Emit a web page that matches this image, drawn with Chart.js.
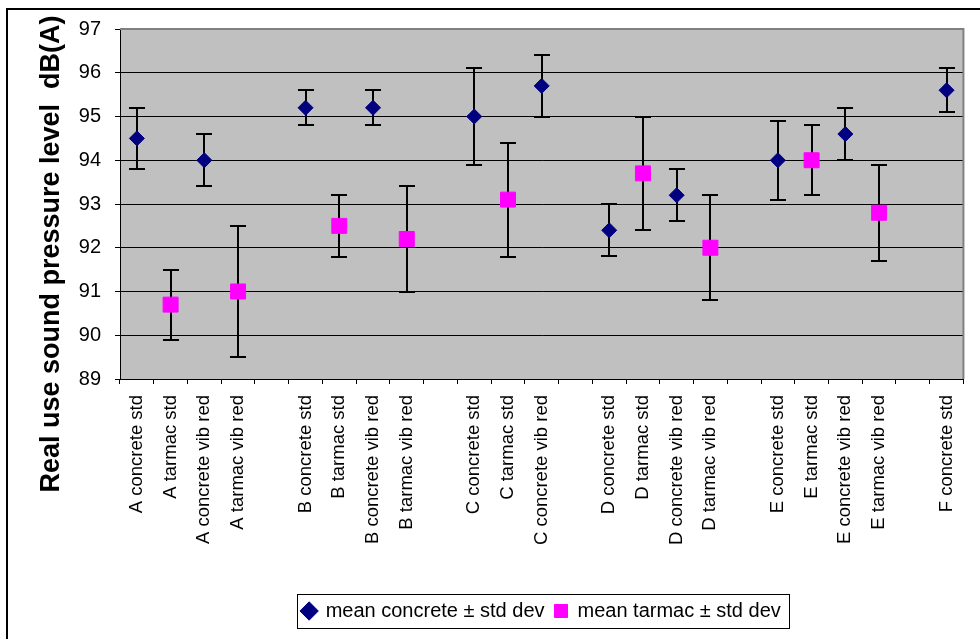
<!DOCTYPE html>
<html><head><meta charset="utf-8">
<script src="https://cdn.jsdelivr.net/npm/chart.js@4.4.0/dist/chart.umd.min.js"></script>
<style>html,body{margin:0;padding:0;background:#fff;} #wrap{width:980px;height:639px;}</style>
</head><body><div id="wrap"><canvas id="c" width="980" height="639"></canvas></div>
<script>
const categories = ['A concrete std','A tarmac std','A concrete vib red','A tarmac vib red','',
  'B concrete std','B tarmac std','B concrete vib red','B tarmac vib red','',
  'C concrete std','C tarmac std','C concrete vib red','',
  'D concrete std','D tarmac std','D concrete vib red','D tarmac vib red','',
  'E concrete std','E tarmac std','E concrete vib red','E tarmac vib red','',
  'F concrete std'];
const concreteMean = [94.5,null,94.0,null,null, 95.2,null,95.2,null,null, 95.0,null,95.7,null, 92.4,null,93.2,null,null, 94.0,null,94.6,null,null, 95.6];
const concreteStd  = [0.7,null,0.6,null,null, 0.4,null,0.4,null,null, 1.1,null,0.7,null, 0.6,null,0.6,null,null, 0.9,null,0.6,null,null, 0.5];
const tarmacMean = [null,90.7,null,91.0,null, null,92.5,null,92.2,null, null,93.1,null,null, null,93.7,null,92.0,null, null,94.0,null,92.8,null, null];
const tarmacStd  = [null,0.8,null,1.5,null, null,0.7,null,1.2,null, null,1.3,null,null, null,1.3,null,1.2,null, null,0.8,null,1.1,null, null];
const yTicks = [89,90,91,92,93,94,95,96,97];
const yTitle = 'Real use sound pressure level  dB(A)';
const seriesNames = ['mean concrete \u00b1 std dev','mean tarmac \u00b1 std dev'];

const FONT = "'Liberation Sans', Arial, sans-serif";
Chart.defaults.font.family = FONT;
Chart.defaults.color = '#000';

const bgPlugin = {
  id: 'bg',
  beforeDraw(chart) {
    const {ctx, chartArea: a} = chart;
    ctx.save();
    ctx.fillStyle = '#fff';
    ctx.fillRect(0, 0, chart.width, chart.height);
    ctx.strokeStyle = '#000';
    ctx.lineWidth = 2;
    ctx.beginPath();
    ctx.moveTo(7, chart.height); ctx.lineTo(7, 9); ctx.lineTo(chart.width, 9);
    ctx.stroke();
    ctx.fillStyle = '#C0C0C0';
    ctx.fillRect(a.left, a.top, a.right - a.left, a.bottom - a.top);
    ctx.restore();
  },
  beforeDatasetsDraw(chart) {
    const {ctx, chartArea: a, scales: {x, y}} = chart;
    ctx.save();
    ctx.strokeStyle = '#808080';
    ctx.lineWidth = 2;
    ctx.beginPath();
    ctx.moveTo(a.left, a.top); ctx.lineTo(a.right, a.top); ctx.lineTo(a.right, a.bottom);
    ctx.stroke();
    // error bars (mean ± std dev)
    ctx.strokeStyle = '#000';
    ctx.lineWidth = 2;
    [[concreteMean, concreteStd], [tarmacMean, tarmacStd]].forEach(([m, s]) => {
      m.forEach((v, i) => {
        if (v == null) return;
        const px = Math.round(x.getPixelForValue(i));
        const top = Math.round(y.getPixelForValue(v + s[i]));
        const bot = Math.round(y.getPixelForValue(v - s[i]));
        ctx.beginPath();
        ctx.moveTo(px, top); ctx.lineTo(px, bot);
        ctx.moveTo(px - 8, top); ctx.lineTo(px + 8, top);
        ctx.moveTo(px - 8, bot); ctx.lineTo(px + 8, bot);
        ctx.stroke();
      });
    });
    ctx.restore();
  },
  afterDraw(chart) {
    const {ctx} = chart;
    ctx.save();
    ctx.translate(52, 254);
    ctx.rotate(-Math.PI / 2);
    ctx.font = "bold 27px " + FONT;
    ctx.fillStyle = '#000';
    ctx.textAlign = 'center';
    ctx.textBaseline = 'middle';
    ctx.fillText(yTitle, 0, 0);
    ctx.restore();
    const lg = chart.legend;
    if (lg && lg.legendHitBoxes && lg.legendHitBoxes.length) {
      const hb = lg.legendHitBoxes;
      let l = Infinity, r = -Infinity, t = Infinity, b = -Infinity;
      hb.forEach(h => { l = Math.min(l, h.left); r = Math.max(r, h.left + h.width); t = Math.min(t, h.top); b = Math.max(b, h.top + h.height); });
      ctx.save();
      ctx.strokeStyle = '#000';
      ctx.lineWidth = 1;
      ctx.strokeRect(Math.round(l - 6) + 0.5, Math.round(t - 7) + 0.5, Math.round(r - l + 14), Math.round(b - t + 14));
      ctx.restore();
    }
  }
};

new Chart(document.getElementById('c'), {
  type: 'line',
  data: {
    labels: categories,
    datasets: [
      { label: seriesNames[0], data: concreteMean, showLine: false, pointStyle: 'rectRot',
        pointRadius: 7.5, pointHoverRadius: 7.5, pointBackgroundColor: '#000080', pointBorderColor: '#000080', pointBorderWidth: 1,
        backgroundColor: '#000080', borderColor: '#000080' },
      { label: seriesNames[1], data: tarmacMean, showLine: false, pointStyle: 'rect',
        pointRadius: 10.6, pointHoverRadius: 10.6, pointBackgroundColor: '#FF00FF', pointBorderColor: '#FF00FF', pointBorderWidth: 1,
        backgroundColor: '#FF00FF', borderColor: '#FF00FF' }
    ]
  },
  options: {
    responsive: false,
    animation: false,
    events: [],
    layout: { padding: { left: 0, right: 11, top: 29, bottom: 8 } },
    plugins: {
      tooltip: { enabled: false },
      legend: {
        position: 'bottom',
        fullSize: false,
        labels: { usePointStyle: true, boxWidth: 13, boxHeight: 13, padding: 10,
          font: { size: 20, family: FONT }, color: '#000' }
      }
    },
    scales: {
      x: {
        type: 'category',
        offset: true,
        afterFit(s) { s.height = 212; },
        grid: { display: true, drawOnChartArea: false, drawTicks: true, tickLength: 5, offset: true, color: '#000', lineWidth: 1 },
        border: { display: true, color: '#000', width: 1 },
        ticks: { autoSkip: false, maxRotation: 90, minRotation: 90, padding: 11, font: { size: 18.5, family: FONT }, color: '#000' }
      },
      y: {
        min: 89, max: 97,
        afterFit(s) { s.width = 120; },
        afterBuildTicks(s) { s.ticks = yTicks.map(v => ({ value: v })); },
        grid: { color: '#000', lineWidth: 1, tickLength: 5, drawTicks: true },
        border: { display: true, color: '#000', width: 1 },
        ticks: { padding: 14, font: { size: 20, family: FONT }, color: '#000' }
      }
    }
  },
  plugins: [bgPlugin]
});
</script>
</body></html>
